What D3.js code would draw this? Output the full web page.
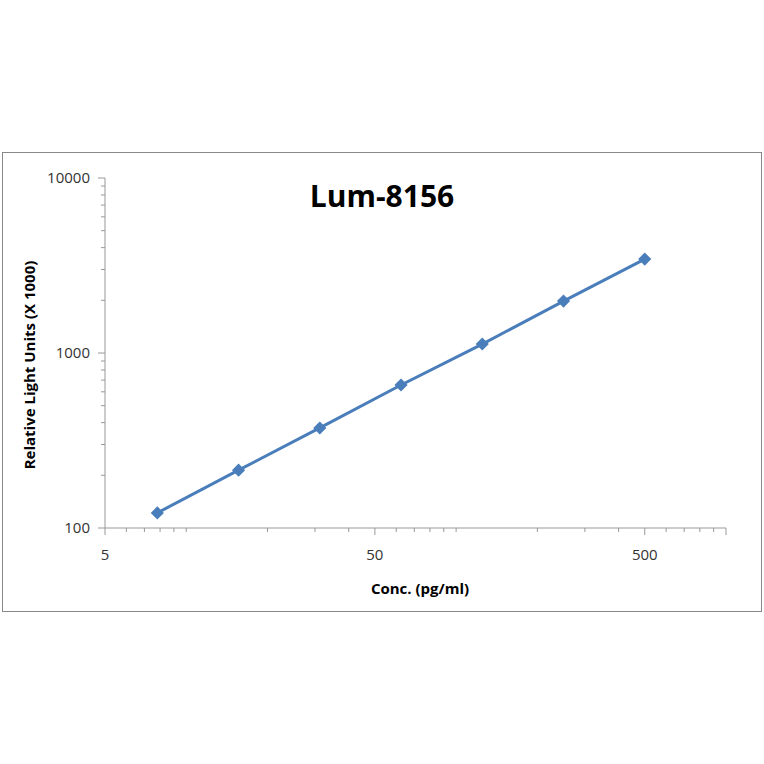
<!DOCTYPE html>
<html><head><meta charset="utf-8">
<script src="https://cdn.jsdelivr.net/npm/d3@7"></script>
<style>body{margin:0;background:#fff}</style>
</head><body><div class="canvas"></div>
<script>
const conc = [7.8125, 15.625, 31.25, 62.5, 125, 250, 500];
const rlu = [122, 214, 373, 656, 1125, 1980, 3440];
const xTickLabels = [5, 50, 500];
const yTickLabels = [100, 1000, 10000];

const svg = d3.select('.canvas').append('svg')
  .attr('width', 764).attr('height', 764)
  .style('font-family', "'Open Sans', sans-serif");

svg.append('rect').attr('x', 2.5).attr('y', 152.5).attr('width', 759).attr('height', 459)
  .attr('fill', 'none').attr('stroke', '#888');

const x = d3.scaleLog().domain([5, 1000]).range([105, 726]);
const y = d3.scaleLog().domain([100, 10000]).range([528, 178]);

// minor ticks
const xMinor = [];
[5, 10, 100].forEach(b => { for (let k = 1; k < 10; k++) { const v = b === 5 ? 5 + k : b * k; if (v > 5 && v <= 1000 && !xTickLabels.includes(v) && (b !== 5 || v < 10)) xMinor.push(v); } });
const yMinor = [];
[100, 1000].forEach(b => { for (let k = 2; k < 10; k++) yMinor.push(b * k); });

const g = svg.append('g').attr('stroke', '#999');
g.append('line').attr('x1', x(5)).attr('x2', x(1000)).attr('y1', y(100)).attr('y2', y(100));
g.append('line').attr('x1', x(5)).attr('x2', x(5)).attr('y1', y(100)).attr('y2', y(10000));
g.selectAll('.xm').data(xMinor).join('line')
  .attr('x1', d => x(d)).attr('x2', d => x(d)).attr('y1', y(100)).attr('y2', y(100) + 4);
g.selectAll('.xM').data(xTickLabels.concat([1000])).join('line')
  .attr('x1', d => x(d)).attr('x2', d => x(d)).attr('y1', y(100)).attr('y2', y(100) + 7);
g.selectAll('.ym').data(yMinor).join('line')
  .attr('x1', x(5) - 4).attr('x2', x(5)).attr('y1', d => y(d)).attr('y2', d => y(d));
g.selectAll('.yM').data(yTickLabels).join('line')
  .attr('x1', x(5) - 7).attr('x2', x(5)).attr('y1', d => y(d)).attr('y2', d => y(d));

svg.selectAll('.xl').data(xTickLabels).join('text')
  .attr('x', d => x(d)).attr('y', 560).attr('text-anchor', 'middle')
  .attr('font-size', 15).attr('fill', '#333').text(d => d);
svg.selectAll('.yl').data(yTickLabels).join('text')
  .attr('x', 90).attr('y', d => y(d) + 5).attr('text-anchor', 'end')
  .attr('font-size', 15).attr('fill', '#333').text(d => d);

svg.append('text').attr('x', 382).attr('y', 207).attr('text-anchor', 'middle')
  .attr('font-size', 30).attr('font-weight', 'bold').text('Lum-8156');
svg.append('text').attr('x', 420).attr('y', 594).attr('text-anchor', 'middle')
  .attr('font-size', 15).attr('font-weight', 'bold').text('Conc. (pg/ml)');
svg.append('text').attr('transform', 'translate(35,365) rotate(-90)').attr('text-anchor', 'middle')
  .attr('font-size', 15).attr('font-weight', 'bold').text('Relative Light Units (X 1000)');

const data = conc.map((c, i) => [c, rlu[i]]);
svg.append('path').datum(data)
  .attr('d', d3.line().x(d => x(d[0])).y(d => y(d[1])))
  .attr('fill', 'none').attr('stroke', '#4a7ebb').attr('stroke-width', 3);
svg.selectAll('.pt').data(data).join('path')
  .attr('transform', d => `translate(${x(d[0])},${y(d[1])})`)
  .attr('d', d3.symbol(d3.symbolDiamond2, 110))
  .attr('fill', '#4a7ebb');
</script></body></html>
